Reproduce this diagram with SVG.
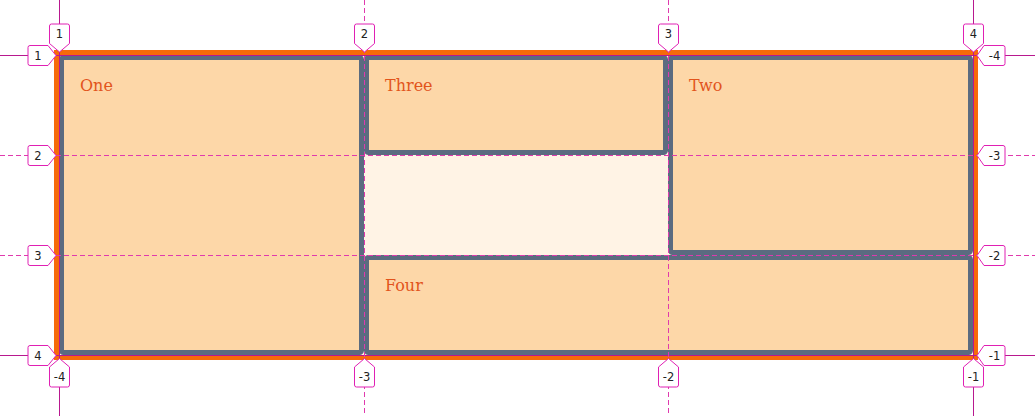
<svg xmlns="http://www.w3.org/2000/svg" width="1035" height="416" viewBox="0 0 1035 416">
<style>
.item{fill:#fdd7a8;stroke:#5b6b80;stroke-width:5}
.name{font-family:"DejaVu Serif",serif;font-size:16px;fill:#e2541c}
.edge{stroke:#b8188f;stroke-width:1;fill:none}
.dash{stroke:#e03aae;stroke-width:1;fill:none;stroke-dasharray:5 3}
.lbl path{fill:#fff;stroke:#e020b4;stroke-width:1;stroke-linejoin:round}
.lbl text{font-family:"DejaVu Sans",sans-serif;font-size:11.5px;fill:#222;text-anchor:middle}
</style>
<rect width="1035" height="416" fill="#fff"/>
<g id="container">
<rect x="59" y="55" width="914" height="300" fill="#fff3e5"/>
<rect x="56.5" y="52.5" width="919" height="305" fill="none" stroke="#f66a0a" stroke-width="5"/>
</g>
<g id="one"><rect class="item" x="61.5" y="57.5" width="300" height="295" rx="2"/><text class="name" x="80" y="91">One</text></g>
<g id="three"><rect class="item" x="366.5" y="57.5" width="299" height="95" rx="2"/><text class="name" x="385" y="91">Three</text></g>
<g id="two"><rect class="item" x="670.5" y="57.5" width="300" height="195" rx="2"/><text class="name" x="689" y="91">Two</text></g>
<g id="four"><rect class="item" x="366.5" y="257.5" width="604" height="95" rx="2"/><text class="name" x="385" y="291">Four</text></g>
<g id="connectors">
<line class="edge" x1="59.5" y1="0" x2="59.5" y2="416"/>
<line class="edge" x1="973.5" y1="0" x2="973.5" y2="416"/>
<line class="edge" x1="0" y1="55.5" x2="1035" y2="55.5"/>
<line class="edge" x1="0" y1="355.5" x2="1035" y2="355.5"/>
<line class="dash" x1="364.5" y1="0" x2="364.5" y2="416"/>
<line class="dash" x1="668.5" y1="0" x2="668.5" y2="416"/>
<line class="dash" x1="0" y1="155.5" x2="1035" y2="155.5"/>
<line class="dash" x1="0" y1="255.5" x2="1035" y2="255.5"/>
</g>
<g id="labels-top" class="lbl">
<path d="M49.5,26 q0,-2 2,-2 h16 q2,0 2,2 v17.5 l-10,8.5 l-10,-8.5 z"/><text x="59.5" y="37.5">1</text>
<path d="M354.5,26 q0,-2 2,-2 h16 q2,0 2,2 v17.5 l-10,8.5 l-10,-8.5 z"/><text x="364.5" y="37.5">2</text>
<path d="M658.5,26 q0,-2 2,-2 h16 q2,0 2,2 v17.5 l-10,8.5 l-10,-8.5 z"/><text x="668.5" y="37.5">3</text>
<path d="M963.5,26 q0,-2 2,-2 h16 q2,0 2,2 v17.5 l-10,8.5 l-10,-8.5 z"/><text x="973.5" y="37.5">4</text>
</g>
<g id="labels-left" class="lbl">
<path d="M28,47.5 q0,-2 2,-2 h18 l8,10 l-8,10 h-18 q-2,0 -2,-2 z"/><text x="38" y="59.5">1</text>
<path d="M28,147.5 q0,-2 2,-2 h18 l8,10 l-8,10 h-18 q-2,0 -2,-2 z"/><text x="38" y="159.5">2</text>
<path d="M28,247.5 q0,-2 2,-2 h18 l8,10 l-8,10 h-18 q-2,0 -2,-2 z"/><text x="38" y="259.5">3</text>
<path d="M28,347.5 q0,-2 2,-2 h18 l8,10 l-8,10 h-18 q-2,0 -2,-2 z"/><text x="38" y="359.5">4</text>
</g>
<g id="labels-right" class="lbl">
<path d="M977,55.5 l7,-10 h19 q2,0 2,2 v16 q0,2 -2,2 h-19 z"/><text x="994.5" y="59.5">-4</text>
<path d="M977,155.5 l7,-10 h19 q2,0 2,2 v16 q0,2 -2,2 h-19 z"/><text x="994.5" y="159.5">-3</text>
<path d="M977,255.5 l7,-10 h19 q2,0 2,2 v16 q0,2 -2,2 h-19 z"/><text x="994.5" y="259.5">-2</text>
<path d="M977,355.5 l7,-10 h19 q2,0 2,2 v16 q0,2 -2,2 h-19 z"/><text x="994.5" y="359.5">-1</text>
</g>
<g id="labels-bottom" class="lbl">
<path d="M59.5,358.5 l10,8.5 v18 q0,2 -2,2 h-16 q-2,0 -2,-2 v-18 z"/><text x="59.5" y="380.5">-4</text>
<path d="M364.5,358.5 l10,8.5 v18 q0,2 -2,2 h-16 q-2,0 -2,-2 v-18 z"/><text x="364.5" y="380.5">-3</text>
<path d="M668.5,358.5 l10,8.5 v18 q0,2 -2,2 h-16 q-2,0 -2,-2 v-18 z"/><text x="668.5" y="380.5">-2</text>
<path d="M973.5,358.5 l10,8.5 v18 q0,2 -2,2 h-16 q-2,0 -2,-2 v-18 z"/><text x="973.5" y="380.5">-1</text>
</g>
</svg>
